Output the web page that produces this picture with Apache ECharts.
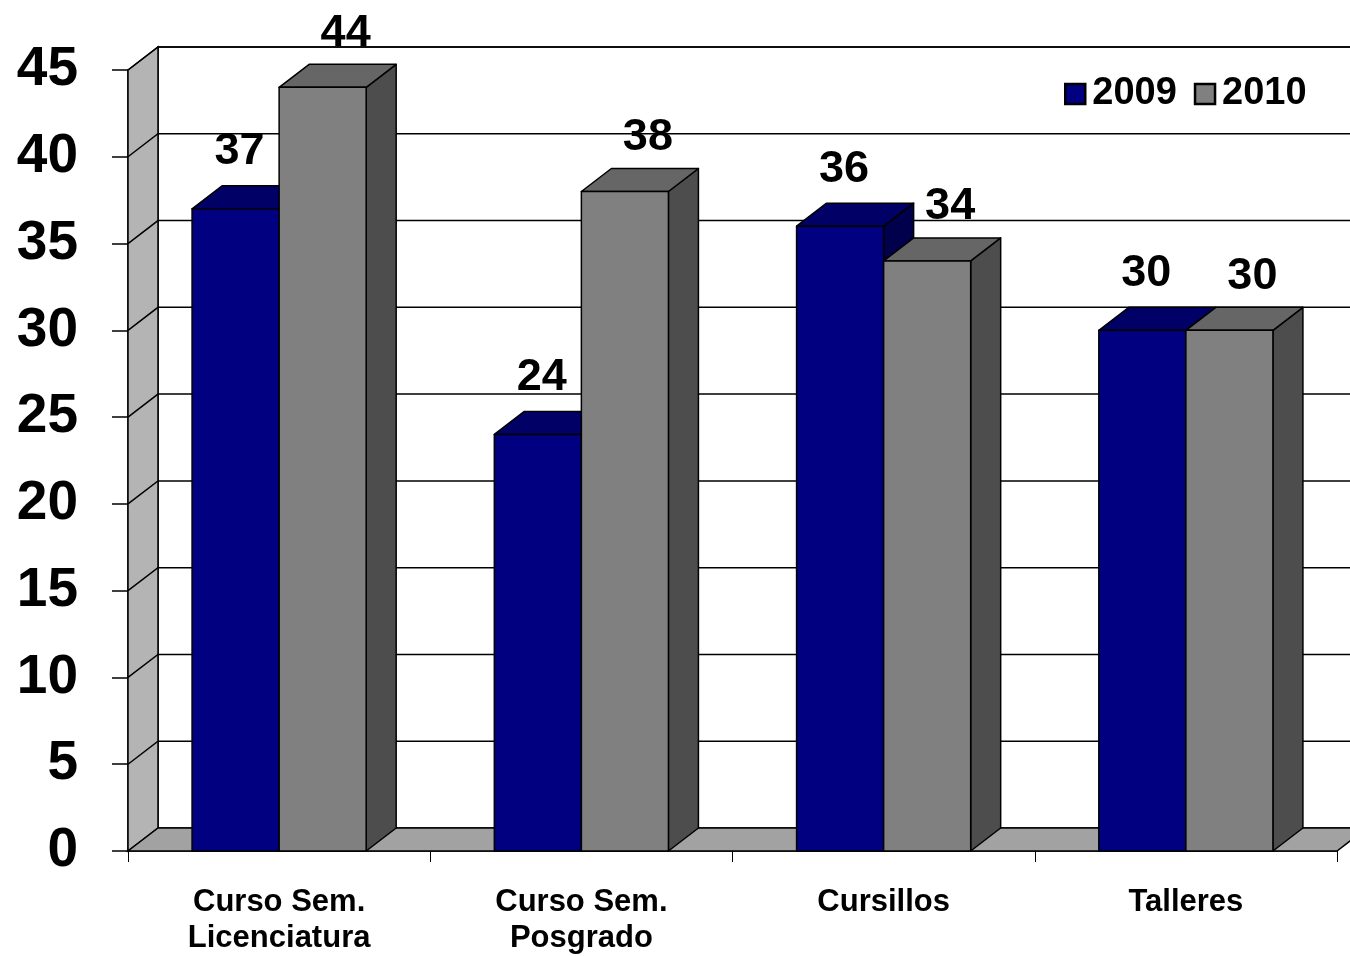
<!DOCTYPE html>
<html><head><meta charset="utf-8">
<script src="https://cdn.jsdelivr.net/npm/echarts@6/dist/echarts.min.js"></script>
<style>html,body{margin:0;padding:0;background:#fff}#c{width:1350px;height:956px}</style>
</head><body><div id="c"></div>
<script>
const categories = ['Curso Sem.\nLicenciatura', 'Curso Sem.\nPosgrado', 'Cursillos', 'Talleres'];
const values2009 = [37, 24, 36, 30];
const values2010 = [44, 38, 34, 30];
const seriesNames = ['2009', '2010'];
const yMin = 0, yMax = 45, yStep = 5;

const DX = 30, DY = -23;          // 3D depth offset (px)
const BAR_RATIO = 0.288;          // bar width / category width
const FONT = 'Arial, "Liberation Sans", sans-serif';

const chart = echarts.init(document.getElementById('c'), null, {renderer: 'canvas'});

function wallsRender(params, api) {
  const cs = params.coordSys;
  const x0 = cs.x, x1 = cs.x + cs.width;
  const yB = api.coord([0, yMin])[1];
  const yT = api.coord([0, yMax])[1];
  const stroke = {stroke: '#000', lineWidth: 1.5};
  const children = [];
  children.push({type: 'rect', shape: {x: x0 + DX, y: yT + DY, width: x1 - x0 + 40, height: yB - yT},
    style: Object.assign({fill: '#ffffff'}, stroke)});
  children.push({type: 'polygon', shape: {points: [[x0, yB], [x0, yT], [x0 + DX, yT + DY], [x0 + DX, yB + DY]]},
    style: Object.assign({fill: '#b4b4b4'}, stroke)});
  children.push({type: 'polygon', shape: {points: [[x0, yB], [x1, yB], [x1 + DX, yB + DY], [x0 + DX, yB + DY]]},
    style: Object.assign({fill: '#a2a2a2'}, stroke)});
  for (let v = yMin + yStep; v <= yMax; v += yStep) {
    const y = api.coord([0, v])[1];
    children.push({type: 'polyline', shape: {points: [[x0, y], [x0 + DX, y + DY], [x1 + DX + 40, y + DY]]},
      style: {stroke: '#000', lineWidth: 1.5, fill: null}});
  }
  return {type: 'group', children: children};
}

function barRender(side, colors, ldx, ldy) {
  return function (params, api) {
    const ci = api.value(0), v = api.value(1);
    const base = api.coord([ci, 0]);
    const top = api.coord([ci, v]);
    const bw = api.size([1, 0])[0] * BAR_RATIO;
    const xl = side === 0 ? base[0] - bw : base[0];
    const xr = xl + bw;
    const yb = base[1], yt = top[1];
    const st = {stroke: '#000', lineWidth: 1.5, lineJoin: 'round'};
    return {type: 'group', children: [
      {type: 'polygon', shape: {points: [[xr, yb], [xr, yt], [xr + DX, yt + DY], [xr + DX, yb + DY]]},
        style: Object.assign({fill: colors[2]}, st)},
      {type: 'polygon', shape: {points: [[xl, yt], [xr, yt], [xr + DX, yt + DY], [xl + DX, yt + DY]]},
        style: Object.assign({fill: colors[1]}, st)},
      {type: 'rect', shape: {x: xl, y: yt, width: bw, height: yb - yt},
        style: Object.assign({fill: colors[0]}, st)},
      {type: 'text', style: {text: String(v), x: (xl + xr) / 2 + ldx, y: yt + ldy,
        fill: '#000', font: 'bold 45px ' + FONT, align: 'center', verticalAlign: 'middle'}}
    ]};
  };
}

const navy = ['#000080', '#000066', '#00004d'];
const gray = ['#808080', '#666666', '#4d4d4d'];

chart.setOption({
  animation: false,
  backgroundColor: '#ffffff',
  grid: {left: 128, right: 13, top: 70, bottom: 102, containLabel: false},
  legend: {
    selectedMode: false,
    left: 1059, top: 70,
    itemWidth: 20, itemHeight: 20, itemGap: 17,
    data: [
      {name: seriesNames[0], icon: 'rect', itemStyle: {color: navy[0], borderColor: '#000', borderWidth: 2.5}},
      {name: seriesNames[1], icon: 'rect', itemStyle: {color: gray[0], borderColor: '#000', borderWidth: 2.5}}
    ],
    textStyle: {fontSize: 38, fontWeight: 'bold', fontFamily: FONT, color: '#000', padding: [0, 0, 0, 2]}
  },
  xAxis: {
    type: 'category', data: categories,
    axisLine: {show: true, lineStyle: {color: '#000', width: 1.5}},
    axisTick: {show: true, length: 11, lineStyle: {color: '#000', width: 1}},
    axisLabel: {margin: 33, fontSize: 31, fontWeight: 'bold', fontFamily: FONT, color: '#000', lineHeight: 36, interval: 0},
    splitLine: {show: false}
  },
  yAxis: {
    type: 'value', min: yMin, max: yMax, interval: yStep,
    axisLine: {show: true, lineStyle: {color: '#000', width: 1.5}},
    axisTick: {show: true, length: 16, lineStyle: {color: '#000', width: 1.5}},
    axisLabel: {margin: 50, fontSize: 55, fontWeight: 'bold', fontFamily: FONT, color: '#000'},
    splitLine: {show: false}
  },
  series: [
    {type: 'custom', name: 'walls', renderItem: wallsRender, data: [[0, 0]], silent: true, z: 1, clip: false},
    {type: 'custom', name: seriesNames[0], renderItem: barRender(0, navy, 4, -57),
      itemStyle: {color: navy[0]}, data: values2009.map((v, i) => [i, v]), z: 2, clip: false},
    {type: 'custom', name: seriesNames[1], renderItem: barRender(1, gray, 23, -54),
      itemStyle: {color: gray[0]}, data: values2010.map((v, i) => [i, v]), z: 3, clip: false}
  ]
});
</script></body></html>
